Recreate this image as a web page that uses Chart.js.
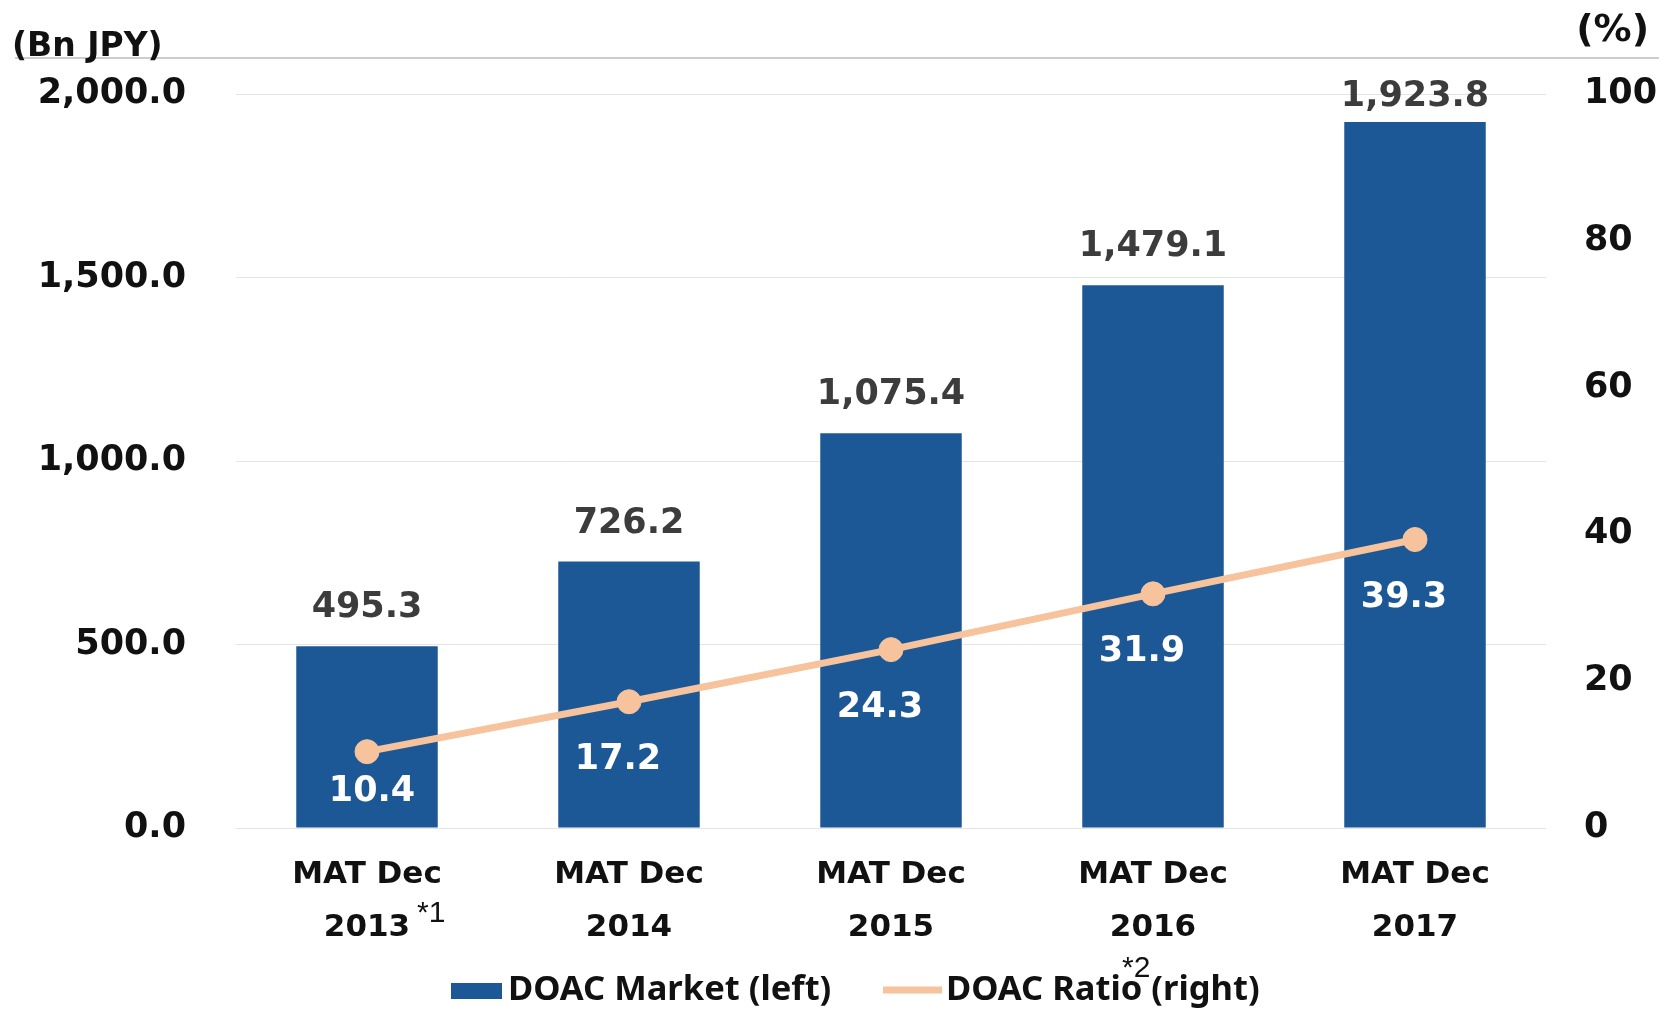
<!DOCTYPE html>
<html>
<head>
<meta charset="utf-8">
<script src="https://cdn.jsdelivr.net/npm/chart.js@4.4.1/dist/chart.umd.min.js"></script>
<style>
  html, body { margin: 0; background: #fff; }
  #wrap { width: 1659px; height: 1009px; }
</style>
</head>
<body>
<div id="wrap"><canvas id="chart"></canvas></div>
<script>
const categories = [["MAT Dec", "2013"], ["MAT Dec", "2014"], ["MAT Dec", "2015"], ["MAT Dec", "2016"], ["MAT Dec", "2017"]];
const marketValues = [495.3, 726.2, 1075.4, 1479.1, 1923.8];
const ratioValues = [10.4, 17.2, 24.3, 31.9, 39.3];
const leftTicks = [0, 500, 1000, 1500, 2000];
const rightTicks = [0, 20, 40, 60, 80, 100];

const BLUE = "#1d5896";
const PEACH = "#f6c39c";
const NUM_FONT = "bold 35px 'DejaVu Sans'";

const fmt = v => v.toLocaleString("en-US", { minimumFractionDigits: 1, maximumFractionDigits: 1 });

const extras = {
  id: "extras",
  afterDatasetsDraw(chart) {
    const ctx = chart.ctx;
    const area = chart.chartArea;
    ctx.save();
    ctx.font = NUM_FONT;
    ctx.textAlign = "center";
    ctx.textBaseline = "middle";
    // bar values above bars
    ctx.fillStyle = "#3c3c3c";
    chart.getDatasetMeta(0).data.forEach((bar, i) => {
      ctx.fillText(fmt(marketValues[i]), bar.x, Math.max(bar.y - 38, area.top + 3));
    });
    // ratio values under the points (kept inside the bar near the bottom)
    ctx.fillStyle = "#ffffff";
    chart.getDatasetMeta(1).data.forEach((pt, i) => {
      let y = pt.y + 58;
      let x = pt.x - 11;
      if (y > area.bottom - 36) { y = area.bottom - 36; x = pt.x + 5; }
      ctx.fillText(fmt(ratioValues[i]), x, y);
    });
    ctx.restore();
  },
  afterDraw(chart) {
    const ctx = chart.ctx;
    ctx.save();
    // top rule
    ctx.strokeStyle = "#bdbdbd";
    ctx.lineWidth = 1.5;
    ctx.beginPath();
    ctx.moveTo(15, 58);
    ctx.lineTo(1659, 58);
    ctx.stroke();
    // axis units
    ctx.fillStyle = "#111";
    ctx.textBaseline = "alphabetic";
    ctx.textAlign = "left";
    ctx.font = "bold 33px 'DejaVu Sans'";
    ctx.fillText("(Bn JPY)", 12, 56);
    ctx.font = "bold 38px 'DejaVu Sans'";
    ctx.textAlign = "right";
    ctx.fillText("(%)", 1649, 41);
    // footnote marks
    ctx.textAlign = "left";
    ctx.font = "30px 'Liberation Sans'";
    ctx.fillText("*1", 417, 922);
    ctx.fillText("*2", 1122, 977);
    // legend
    ctx.fillStyle = BLUE;
    ctx.fillRect(451, 983, 51, 16);
    ctx.strokeStyle = PEACH;
    ctx.lineWidth = 7;
    ctx.beginPath();
    ctx.moveTo(883, 990);
    ctx.lineTo(942, 990);
    ctx.stroke();
    ctx.fillStyle = "#111";
    ctx.font = "bold 34.5px 'Noto Sans'";
    ctx.textBaseline = "middle";
    ctx.fillText("DOAC Market (left)", 508, 990);
    ctx.fillText("DOAC Ratio (right)", 946, 990);
    ctx.restore();
  }
};

new Chart(document.getElementById("chart").getContext("2d"), {
  data: {
    labels: categories,
    datasets: [
      {
        type: "bar",
        label: "DOAC Market (left)",
        data: marketValues,
        yAxisID: "y",
        backgroundColor: BLUE,
        barPercentage: 0.54,
        categoryPercentage: 1,
        order: 2,
      },
      {
        type: "line",
        label: "DOAC Ratio (right)",
        data: ratioValues,
        yAxisID: "y2",
        borderColor: PEACH,
        borderWidth: 7,
        pointRadius: 12,
        pointBackgroundColor: PEACH,
        pointBorderColor: PEACH,
        pointBorderWidth: 1,
        tension: 0,
        order: 1,
      },
    ],
  },
  options: {
    responsive: true,
    maintainAspectRatio: false,
    animation: false,
    layout: { padding: { top: 94, left: 0, right: 0, bottom: 0 } },
    plugins: { legend: { display: false }, tooltip: { enabled: false } },
    scales: {
      x: {
        grid: { display: false, drawTicks: false },
        border: { display: false },
        ticks: {
          color: "#111",
          padding: 20,
          font: { family: "'DejaVu Sans'", weight: "bold", size: 31, lineHeight: 1.71 },
        },
        afterFit: s => { s.height = 181; },
      },
      y: {
        position: "left",
        min: 0,
        max: 2000,
        afterBuildTicks: s => { s.ticks = leftTicks.map(v => ({ value: v })); },
        grid: { color: "#e4e4e4", lineWidth: 1, drawTicks: false },
        border: { display: false },
        ticks: {
          color: "#111",
          padding: 50,
          font: { family: "'DejaVu Sans'", weight: "bold", size: 35 },
          callback: v => fmt(v),
        },
        afterFit: s => { s.width = 236; },
      },
      y2: {
        position: "right",
        min: 0,
        max: 100,
        afterBuildTicks: s => { s.ticks = rightTicks.map(v => ({ value: v })); },
        grid: { display: false, drawTicks: false },
        border: { display: false },
        ticks: {
          color: "#111",
          padding: 38,
          font: { family: "'DejaVu Sans'", weight: "bold", size: 35 },
        },
        afterFit: s => { s.width = 113; },
      },
    },
  },
  plugins: [extras],
});
</script>
</body>
</html>
